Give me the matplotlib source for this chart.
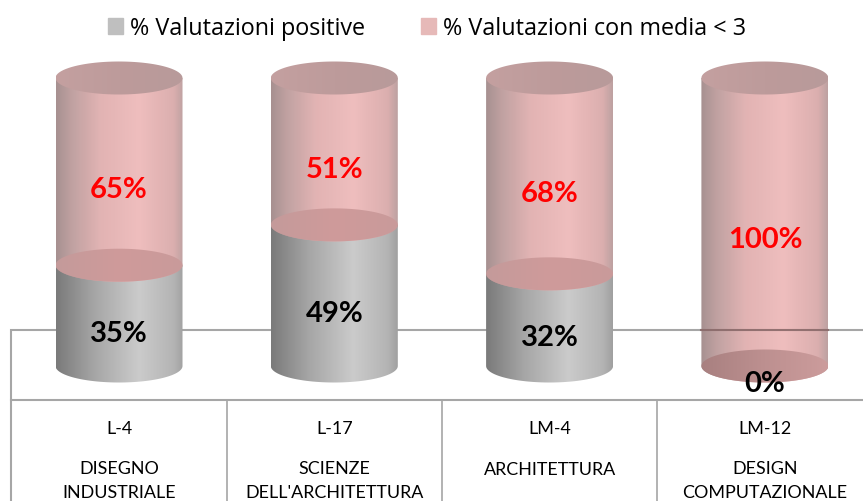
"""Stacked cylinder chart: share of positive ratings per degree course."""

import numpy as np
import matplotlib
matplotlib.use("Agg")
import matplotlib.pyplot as plt
from matplotlib.colors import LinearSegmentedColormap
from matplotlib.patches import Patch, PathPatch
from matplotlib.path import Path

codes = ["L-4", "L-17", "LM-4", "LM-12"]
names = ["DISEGNO\nINDUSTRIALE", "SCIENZE\nDELL'ARCHITETTURA",
         "ARCHITETTURA", "DESIGN\nCOMPUTAZIONALE"]
positive = [35, 49, 32, 0]
below_three = [65, 51, 68, 100]
series_names = ["% Valutazioni positive", "% Valutazioni con media < 3"]

W, H = 863, 502
Y0_PX, Y100_PX = 367, 79      # pixel rows of 0% and 100%
X0_PX, STEP_PX = 119, 215.3   # pixel column of first bar, spacing
HALF_W = 63.5 / STEP_PX
HALF_H = 16.5 / ((Y0_PX - Y100_PX) / 100)
LABEL_DROP = -6

GREY = LinearSegmentedColormap.from_list("grey", [
    (0, "#7a7a7a"), (0.3, "#a6a6a6"), (0.65, "#cbcbcb"), (0.92, "#b4b4b4"), (1, "#a0a0a0")])
PINK = LinearSegmentedColormap.from_list("pink", [
    (0, "#a08888"), (0.12, "#bb9a9a"), (0.35, "#e0aeae"), (0.65, "#eeb9b9"),
    (0.92, "#d9a9a9"), (1, "#b89a9a")])
TOP = LinearSegmentedColormap.from_list("top", ["#c4a0a0", "#bd9b9b", "#b89a9a"])
MID = LinearSegmentedColormap.from_list("mid", ["#c49a9a", "#cf9b9b", "#c99a9a"])
FLOOR = LinearSegmentedColormap.from_list("floor", ["#a88080", "#bd9090", "#cc9c9c"])
LINE = "#a6a6a6"
LINE_IN_PINK = "#8a6a6a"


def data_x(px):
    return (px - X0_PX) / STEP_PX


def data_y(py):
    return (Y0_PX - py) / (Y0_PX - Y100_PX) * 100


def gradient(ax, path, cmap, x, y_lo, y_hi, z, alpha=1.0):
    patch = PathPatch(path, transform=ax.transData, fc="none", ec="none")
    ax.add_patch(patch)
    im = ax.imshow(np.linspace(0, 1, 256).reshape(1, -1), cmap=cmap, aspect="auto",
                   extent=(x - HALF_W, x + HALF_W, y_lo, y_hi),
                   zorder=z, alpha=alpha, interpolation="bilinear")
    im.set_clip_path(patch)


def body(x, lo, hi):
    t = np.linspace(np.pi, 2 * np.pi, 60)
    verts = list(zip(x + HALF_W * np.cos(t), lo + HALF_H * np.sin(t)))
    verts += [(x + HALF_W, hi), (x - HALF_W, hi), verts[0]]
    return Path(verts)


def disc(x, y):
    t = np.linspace(0, 2 * np.pi, 120)
    return Path(list(zip(x + HALF_W * np.cos(t), y + HALF_H * np.sin(t))))


fig = plt.figure(figsize=(W / 100, H / 100), dpi=100)
ax = fig.add_axes([0, 0, 1, 1])
ax.axis("off")

# table behind the cylinders
ax.plot([data_x(11), data_x(11), data_x(W)], [data_y(H), data_y(331), data_y(331)],
        color=LINE, lw=1.5, zorder=1, solid_joinstyle="miter")
ax.plot([data_x(11), data_x(W)], [data_y(401), data_y(401)], color=LINE, lw=1.5, zorder=1)
for px in [227, 442, 657]:
    ax.plot([data_x(px), data_x(px)], [data_y(401), data_y(H)], color=LINE, lw=1.2, zorder=1)

for i, (pos, neg) in enumerate(zip(positive, below_three)):
    lo = -HALF_H - 1
    top = pos + neg
    if pos > 0:
        gradient(ax, body(i, 0, pos), GREY, i, lo, pos + 1, 3)
    gradient(ax, body(i, pos, top), PINK, i, pos - HALF_H - 1, top + 1, 4, alpha=0.93)
    gradient(ax, disc(i, pos), MID if pos > 0 else FLOOR, i, pos - HALF_H - 1, pos + HALF_H + 1, 5)
    gradient(ax, disc(i, top), TOP, i, top - HALF_H - 1, top + HALF_H + 1, 5)

    ax.text(i, pos / 2 + LABEL_DROP, f"{pos}%", ha="center", va="center", color="black",
            fontsize=21, fontweight="bold", family="Lato", zorder=7)
    ax.text(i, pos + neg / 2 + LABEL_DROP, f"{neg}%", ha="center", va="center", color="#ff0000",
            fontsize=21, fontweight="bold", family="Lato", zorder=7)
    ax.text(i, data_y(429), codes[i], ha="center", va="center", fontsize=12.9, family="Lato")
    ax.text(i, data_y(481 if "\n" in names[i] else 470), names[i], ha="center", va="center",
            fontsize=12.9, family="Lato", linespacing=1.6)

# the table line shows through where the cylinder is only pink
for i, pos in enumerate(positive):
    if pos < data_y(331):
        ax.plot([i - HALF_W, i + HALF_W], [data_y(331), data_y(331)],
                color=LINE_IN_PINK, lw=1.5, zorder=6, alpha=0.9)

ax.set_xlim(data_x(0), data_x(W))
ax.set_ylim(data_y(H), data_y(0))

handles = [Patch(color="#bfbfbf"), Patch(color="#e6b9b8")]
ax.legend(handles, series_names, loc="center", bbox_to_anchor=(427 / W, 1 - 29 / H),
          ncols=2, frameon=False, prop={"family": "Open Sans", "size": 16.8},
          handlelength=0.65, handleheight=0.65, handletextpad=0.3, columnspacing=2.4)

fig.savefig("out.png", dpi=100)
